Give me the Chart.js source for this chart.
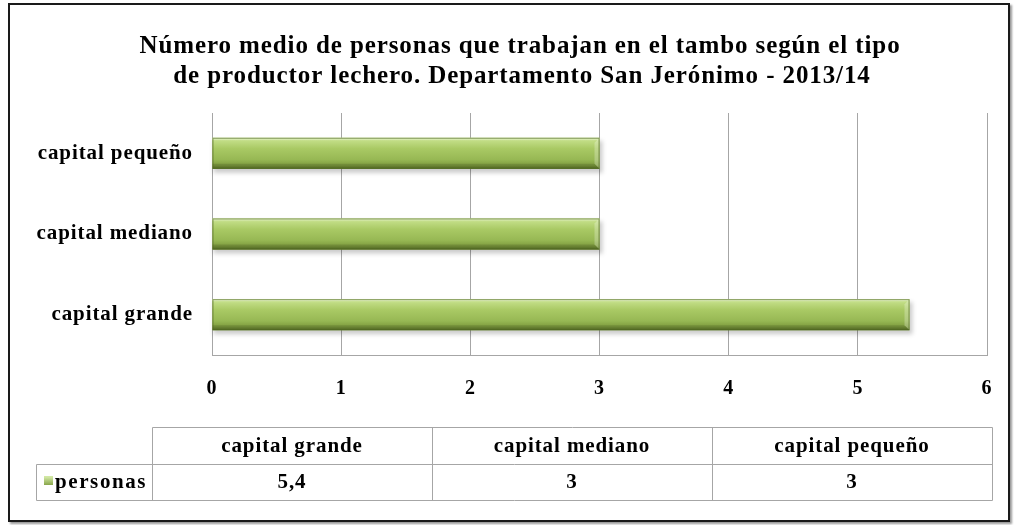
<!DOCTYPE html>
<html>
<head>
<meta charset="utf-8">
<script src="https://cdn.jsdelivr.net/npm/chart.js@4/dist/chart.umd.min.js"></script>
<style>
    html, body { margin: 0; padding: 0; background: #fff; }
    #marco { position: absolute; left: 8px; top: 3px; width: 998px; height: 515px; border: 2px solid #1a1a1a; box-shadow: 2px 2px 2px #999; }
    #grafico { position: absolute; left: 0; top: 0; }
</style>
</head>
<body>
<div id="marco"></div>
<canvas id="grafico" width="1016" height="525"></canvas>
<script>
// --- Datos ---
const categorias = ['capital grande', 'capital mediano', 'capital pequeño'];
const personas = [5.4, 3, 3];
const etiquetasValor = ['5,4', '3', '3'];
const serieNombre = 'personas';
const titulo = ['Número medio de personas que trabajan en el tambo según el tipo', 'de productor lechero. Departamento San Jerónimo - 2013/14'];
const ticksX = [0, 1, 2, 3, 4, 5, 6];

const FUENTE = '"Liberation Serif", "Times New Roman", serif';
const GRIS = '#a6a6a6';

// espaciado de letras (el original se ve más ancho)
const espaciado = {
    id: 'espaciado',
    beforeDraw(chart) { chart.ctx.letterSpacing = '0.9px'; }
};

// --- Título ---
const tituloPlugin = {
    id: 'tituloPlugin',
    afterDraw(chart) {
        const ctx = chart.ctx;
        ctx.save();
        ctx.letterSpacing = '0.9px';
        ctx.fillStyle = '#000';
        ctx.font = 'bold 25px ' + FUENTE;
        ctx.textAlign = 'center';
        ctx.textBaseline = 'middle';
        ctx.fillText(titulo[0], 520, 47);
        ctx.fillText(titulo[1], 522, 77);
        ctx.restore();
    }
};

// --- Barras con volumen (degradado sobre cada barra) ---
const cilindroPlugin = {
    id: 'cilindroPlugin',
    beforeDatasetsDraw(chart) {
        const ctx = chart.ctx;
        chart.getDatasetMeta(0).data.forEach(bar => {
            const h = bar.height;
            ctx.save();
            ctx.fillStyle = 'rgba(0,0,0,0.2)';
            ctx.filter = 'blur(2px)';
            ctx.fillRect(bar.base + 1, bar.y - h / 2 + 3, bar.x - bar.base + 2, h + 1);
            ctx.restore();
        });
    },
    afterDatasetsDraw(chart) {
        const ctx = chart.ctx;
        chart.getDatasetMeta(0).data.forEach(bar => {
            const h = bar.height;
            const top = bar.y - h / 2;
            const x0 = bar.base, x1 = bar.x;
            const g = ctx.createLinearGradient(0, top, 0, top + h);
            g.addColorStop(0, '#d2e8a4');
            g.addColorStop(0.12, '#bfdb82');
            g.addColorStop(0.35, '#a9c964');
            g.addColorStop(0.7, '#97b854');
            g.addColorStop(0.88, '#7f9d3f');
            g.addColorStop(1, '#5a7326');
            ctx.save();
            ctx.fillStyle = g;
            ctx.fillRect(x0, top, x1 - x0, h);
            // bisel del extremo
            const b = 5;
            ctx.fillStyle = 'rgba(255,255,255,0.25)';
            ctx.beginPath();
            ctx.moveTo(x1 - b, top + b); ctx.lineTo(x1, top); ctx.lineTo(x1, top + h); ctx.lineTo(x1 - b, top + h - b); ctx.closePath();
            ctx.fill();
            ctx.fillStyle = 'rgba(0,0,0,0.12)';
            ctx.beginPath();
            ctx.moveTo(x1 - b, top + h - b); ctx.lineTo(x1, top + h); ctx.lineTo(x0, top + h); ctx.lineTo(x0, top + h - b); ctx.closePath();
            ctx.fill();
            ctx.fillStyle = 'rgba(255,255,255,0.3)';
            ctx.fillRect(x0, top, x1 - x0 - 1, 2);
            ctx.strokeStyle = 'rgba(80,105,35,0.6)';
            ctx.lineWidth = 1;
            ctx.strokeRect(x0 + 0.5, top + 0.5, x1 - x0 - 1, h - 1);
            ctx.restore();
        });
    }
};

// --- Tabla de datos ---
const tablaPlugin = {
    id: 'tablaPlugin',
    afterDraw(chart) {
        const ctx = chart.ctx;
        const colX = [152, 432, 712, 992];
        const yTop = 427, yMid = 464, yBot = 500, xLeg = 36;
        ctx.save();
        ctx.letterSpacing = '0px';
        ctx.strokeStyle = GRIS;
        ctx.lineWidth = 1;
        ctx.beginPath();
        ctx.moveTo(colX[0] + 0.5, yTop + 0.5); ctx.lineTo(colX[3] + 0.5, yTop + 0.5);
        ctx.moveTo(xLeg + 0.5, yMid + 0.5); ctx.lineTo(colX[3] + 0.5, yMid + 0.5);
        ctx.moveTo(xLeg + 0.5, yBot + 0.5); ctx.lineTo(colX[3] + 0.5, yBot + 0.5);
        ctx.moveTo(xLeg + 0.5, yMid + 0.5); ctx.lineTo(xLeg + 0.5, yBot + 0.5);
        colX.forEach(x => { ctx.moveTo(x + 0.5, yTop + 0.5); ctx.lineTo(x + 0.5, yBot + 0.5); });
        ctx.stroke();

        ctx.fillStyle = '#000';
        ctx.font = 'bold 21px ' + FUENTE;
        ctx.letterSpacing = '0.9px';
        ctx.textAlign = 'center';
        ctx.textBaseline = 'middle';
        categorias.forEach((c, i) => {
            const cx = (colX[i] + colX[i + 1]) / 2;
            ctx.fillText(c, cx, (yTop + yMid) / 2 + 1);
            ctx.fillText(etiquetasValor[i], cx, (yMid + yBot) / 2 + 1);
        });
        // leyenda
        const g = ctx.createLinearGradient(0, 477, 0, 486);
        g.addColorStop(0, '#d2e8a4'); g.addColorStop(1, '#7f9d3f');
        ctx.fillStyle = g;
        ctx.fillRect(44, 476, 9, 9);
        ctx.fillStyle = '#000';
        ctx.textAlign = 'left';
        ctx.letterSpacing = '1.6px';
        ctx.fillText(serieNombre, 55, (yMid + yBot) / 2 + 1);
        ctx.restore();
    }
};

new Chart(document.getElementById('grafico'), {
    type: 'bar',
    data: {
        labels: categorias,
        datasets: [{
            label: serieNombre,
            data: personas,
            backgroundColor: '#9bbb59',
            borderWidth: 0,
            barPercentage: 0.385,
            categoryPercentage: 1
        }]
    },
    options: {
        indexAxis: 'y',
        responsive: false,
        animation: false,
        layout: { padding: { top: 113, right: 29, bottom: 0, left: 0 } },
        plugins: { legend: { display: false }, tooltip: { enabled: false } },
        scales: {
            x: {
                min: 0, max: 6,
                afterBuildTicks: s => { s.ticks = ticksX.map(v => ({ value: v })); },
                afterFit: s => { s.height = 170; },
                grid: { color: GRIS, drawTicks: false },
                border: { color: GRIS },
                ticks: { color: '#000', padding: 22, font: { family: FUENTE, size: 20, weight: 'bold' } }
            },
            y: {
                reverse: true,
                afterFit: s => { s.width = 212; },
                grid: { display: false, drawTicks: false },
                border: { color: GRIS },
                ticks: { color: '#000', padding: 19, font: { family: FUENTE, size: 21, weight: 'bold' } }
            }
        }
    },
    plugins: [espaciado, cilindroPlugin, tituloPlugin, tablaPlugin]
});
</script>
</body>
</html>
